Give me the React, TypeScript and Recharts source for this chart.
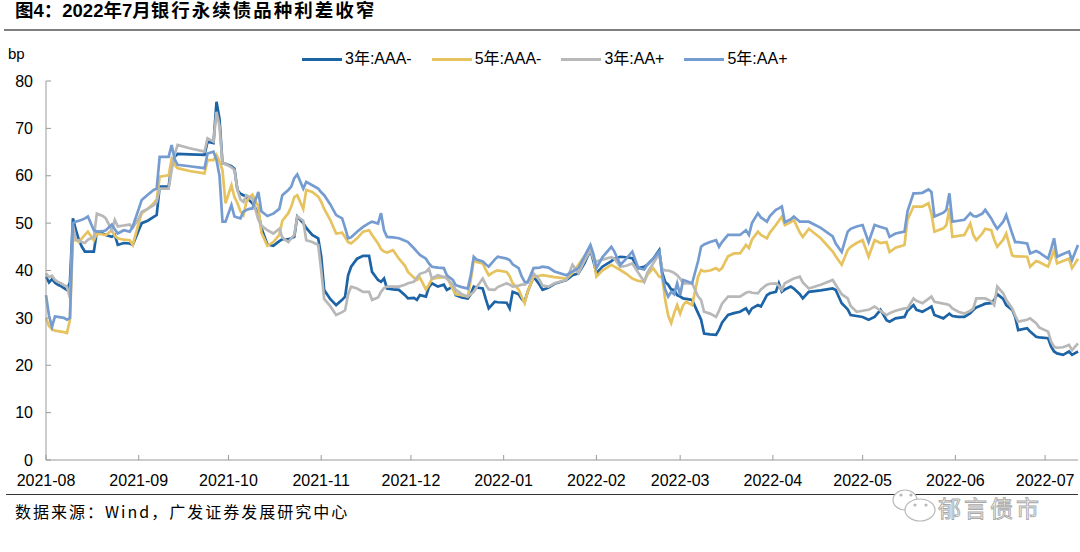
import React from 'react';
import { LineChart, Line, XAxis, YAxis, Legend } from 'recharts';

const dates = [
  '2021-08-02', '2021-08-03', '2021-08-04', '2021-08-05', '2021-08-06', '2021-08-07', '2021-08-08', '2021-08-09',
  '2021-08-10', '2021-08-11', '2021-08-12', '2021-08-13', '2021-08-14', '2021-08-15', '2021-08-16', '2021-08-18',
  '2021-08-19', '2021-08-21', '2021-08-22', '2021-08-24', '2021-08-25', '2021-08-26', '2021-08-28', '2021-08-30',
  '2021-08-31',
  '2021-09-02', '2021-09-03', '2021-09-05', '2021-09-07', '2021-09-08', '2021-09-09', '2021-09-12', '2021-09-13',
  '2021-09-14', '2021-09-15', '2021-09-19', '2021-09-24', '2021-09-25', '2021-09-27', '2021-09-28', '2021-09-29',
  '2021-09-30',
  '2021-10-01', '2021-10-03', '2021-10-04', '2021-10-05', '2021-10-06', '2021-10-07', '2021-10-08', '2021-10-09',
  '2021-10-10', '2021-10-12', '2021-10-13', '2021-10-15', '2021-10-17', '2021-10-19', '2021-10-20', '2021-10-22',
  '2021-10-23', '2021-10-24', '2021-10-25', '2021-10-27', '2021-10-28', '2021-10-30',
  '2021-11-01', '2021-11-02', '2021-11-03', '2021-11-05', '2021-11-07', '2021-11-09', '2021-11-10', '2021-11-11',
  '2021-11-12', '2021-11-14', '2021-11-16', '2021-11-18', '2021-11-19', '2021-11-21', '2021-11-22', '2021-11-23',
  '2021-11-24', '2021-11-26', '2021-11-28', '2021-11-30',
  '2021-12-01', '2021-12-03', '2021-12-04', '2021-12-05', '2021-12-07', '2021-12-08', '2021-12-09', '2021-12-11',
  '2021-12-13', '2021-12-14', '2021-12-16', '2021-12-17', '2021-12-19', '2021-12-21', '2021-12-22', '2021-12-23',
  '2021-12-24', '2021-12-26', '2021-12-27', '2021-12-28', '2021-12-30', '2021-12-31',
  '2022-01-03', '2022-01-04', '2022-01-05', '2022-01-07', '2022-01-08', '2022-01-09', '2022-01-10', '2022-01-12',
  '2022-01-14', '2022-01-15', '2022-01-17', '2022-01-19', '2022-01-23', '2022-01-25', '2022-01-27', '2022-01-29',
  '2022-01-31',
  '2022-02-01', '2022-02-02', '2022-02-04', '2022-02-07', '2022-02-08', '2022-02-10', '2022-02-12', '2022-02-14',
  '2022-02-16', '2022-02-18', '2022-02-19', '2022-02-21', '2022-02-23', '2022-02-24', '2022-02-25', '2022-02-26',
  '2022-02-27', '2022-02-28',
  '2022-03-01', '2022-03-02', '2022-03-03', '2022-03-04', '2022-03-06', '2022-03-08', '2022-03-09', '2022-03-10',
  '2022-03-12', '2022-03-14', '2022-03-15', '2022-03-16', '2022-03-18', '2022-03-20', '2022-03-22', '2022-03-24',
  '2022-03-25', '2022-03-26', '2022-03-28', '2022-03-29', '2022-03-31',
  '2022-04-01', '2022-04-03', '2022-04-04', '2022-04-05', '2022-04-06', '2022-04-08', '2022-04-09', '2022-04-11',
  '2022-04-12', '2022-04-14', '2022-04-18', '2022-04-22', '2022-04-23', '2022-04-25', '2022-04-27', '2022-04-28',
  '2022-04-30',
  '2022-05-02', '2022-05-04', '2022-05-06', '2022-05-08', '2022-05-10', '2022-05-11', '2022-05-13', '2022-05-16',
  '2022-05-17', '2022-05-19', '2022-05-20', '2022-05-22', '2022-05-24', '2022-05-25', '2022-05-26', '2022-05-29',
  '2022-05-30', '2022-05-31',
  '2022-06-01', '2022-06-03', '2022-06-05', '2022-06-07', '2022-06-08', '2022-06-09', '2022-06-11', '2022-06-12',
  '2022-06-14', '2022-06-15', '2022-06-16', '2022-06-18', '2022-06-19', '2022-06-21', '2022-06-22', '2022-06-23',
  '2022-06-26', '2022-06-27', '2022-06-29', '2022-06-30',
  '2022-07-03', '2022-07-04', '2022-07-05', '2022-07-06', '2022-07-08', '2022-07-10', '2022-07-11', '2022-07-13',
];

// 3年:AAA-
const aaa3 = [
  38.7, 37.5, 38.2, 37.4, 37.0, 36.7, 36.3, 35.9, 37.5, 51.0, 48.5, 46.4, 45.0, 44.0, 44.0, 44.0, 48.2, 47.8, 47.5, 47.1, 47.5, 45.4, 45.8, 45.7, 45.4,
  48.5, 50.0, 50.5, 51.3, 51.7, 57.7, 57.7, 62.5, 64.0, 64.6, 64.5, 64.4, 67.2, 66.9, 75.6, 72.0, 62.6,
  62.5, 62.0, 61.5, 57.0, 56.2, 55.9, 55.5, 54.8, 54.2, 52.1, 49.0, 45.5, 45.2, 46.2, 46.6, 46.6, 46.8, 47.1, 51.4, 50.0, 49.0, 47.5,
  46.8, 43.0, 35.9, 34.0, 32.7, 33.8, 34.5, 39.0, 40.8, 42.5, 43.1, 43.1, 39.7, 38.0, 37.6, 38.3, 36.2, 36.0, 35.9, 34.8,
  34.1, 34.2, 33.8, 34.8, 34.5, 36.5, 37.3, 36.6, 37.0, 35.9, 36.6, 34.8, 34.3, 34.1, 35.0, 36.6, 36.4, 36.2, 34.0, 32.0, 33.4, 33.3,
  33.2, 32.0, 35.5, 35.0, 34.0, 33.4, 35.5, 38.7, 37.0, 35.9, 36.4, 37.2, 38.0, 39.0, 39.4, 41.5, 44.3,
  42.0, 39.4, 40.8, 42.0, 42.5, 42.9, 42.8, 42.6, 40.5, 40.8, 41.2, 42.5, 44.3, 39.6, 37.6, 37.0, 36.0, 35.9,
  34.8, 34.5, 34.1, 34.0, 33.8, 31.0, 29.6, 26.7, 26.5, 26.4, 27.5, 29.0, 30.6, 31.0, 31.3, 32.0, 31.0, 32.0, 32.7, 32.4, 34.8,
  35.2, 35.5, 37.3, 35.5, 36.0, 36.6, 36.2, 35.0, 34.1, 35.5, 35.8, 36.2, 35.9, 33.1, 31.8, 30.6, 30.4,
  30.2, 29.6, 30.2, 31.7, 29.5, 29.2, 29.9, 30.2, 31.5, 32.7, 31.7, 31.3, 32.0, 32.4, 30.6, 29.9, 30.4, 30.9,
  30.4, 30.2, 30.2, 31.0, 31.7, 32.2, 32.7, 33.0, 33.1, 33.8, 35.0, 34.0, 32.7, 31.7, 30.2, 27.4, 27.8, 27.1, 26.0, 25.9,
  25.7, 24.0, 22.9, 22.5, 22.2, 22.9, 22.2, 22.9,
];

// 5年:AAA-
const aaa5 = [
  29.9, 28.3, 27.6, 27.3, 27.2, 27.1, 27.0, 26.8, 29.6, 46.4, 46.4, 46.0, 46.8, 47.5, 48.2, 46.4, 47.8, 47.6, 47.5, 48.5, 47.3, 46.8, 46.5, 46.4, 45.4,
  50.0, 52.1, 53.0, 54.2, 55.0, 59.8, 60.1, 63.5, 62.3, 61.6, 61.0, 60.5, 63.3, 63.3, 64.4, 63.0, 61.2,
  54.2, 58.0, 55.5, 54.2, 52.5, 51.7, 54.5, 55.5, 56.0, 53.5, 48.0, 45.2, 46.0, 47.5, 50.5, 52.1, 53.5, 55.5, 55.9, 53.0, 57.0, 56.6,
  55.6, 54.5, 53.0, 50.7, 47.8, 48.0, 47.0, 46.0, 45.7, 46.8, 48.2, 48.5, 47.5, 45.7, 44.5, 44.0, 43.8, 44.3, 42.5, 41.0,
  39.7, 38.5, 38.0, 38.5, 36.0, 37.0, 38.2, 38.5, 38.6, 38.7, 36.0, 35.0, 34.8, 34.5, 38.0, 42.2, 41.8, 41.5, 40.2, 39.0, 39.8, 40.0,
  39.7, 38.8, 37.3, 36.0, 34.5, 33.1, 35.5, 38.7, 38.9, 39.0, 38.8, 38.6, 38.3, 39.5, 41.2, 43.0, 44.7,
  43.0, 38.7, 40.0, 41.2, 40.8, 40.1, 39.3, 38.3, 37.8, 37.6, 39.0, 40.5, 38.7, 38.5, 33.8, 30.5, 28.9, 31.0,
  32.7, 30.9, 32.7, 33.4, 32.7, 38.7, 40.1, 39.8, 40.0, 40.5, 40.0, 40.5, 43.0, 43.6, 43.6, 45.4, 44.7, 46.5, 48.2, 47.5, 46.8,
  48.0, 49.6, 50.5, 51.4, 49.6, 50.2, 50.7, 48.0, 47.1, 48.8, 46.8, 44.0, 43.0, 41.2, 44.3, 45.0, 45.8,
  46.4, 42.9, 46.4, 45.8, 46.0, 43.9, 44.8, 45.4, 50.7, 53.5, 53.5, 53.5, 54.2, 52.0, 48.2, 48.9, 49.6, 53.1,
  47.1, 47.3, 47.5, 49.9, 47.5, 46.4, 47.8, 48.8, 48.5, 46.5, 45.0, 46.5, 47.8, 43.2, 43.0, 43.0, 42.9, 40.8, 42.0, 41.8,
  40.8, 42.5, 44.3, 41.5, 42.0, 42.5, 40.5, 42.5,
];

// 3年:AA+
const aa3 = [
  39.4, 38.6, 38.9, 38.0, 37.6, 37.3, 36.9, 36.6, 34.2, 49.5, 46.5, 46.4, 46.0, 45.8, 46.5, 47.1, 52.0, 51.5, 51.0, 48.5, 50.7, 49.3, 49.5, 49.7, 49.0,
  51.0, 52.4, 53.0, 53.8, 54.5, 57.3, 57.3, 61.2, 64.5, 66.5, 65.8, 65.1, 67.9, 67.2, 73.5, 70.5, 62.6,
  62.5, 61.8, 61.2, 57.0, 55.0, 54.5, 55.9, 55.5, 55.2, 50.7, 49.5, 48.5, 47.8, 48.8, 47.0, 46.0, 46.8, 47.5, 51.4, 50.5, 46.4, 46.0,
  45.4, 40.0, 34.0, 32.5, 30.6, 31.2, 31.6, 35.0, 36.6, 36.2, 35.5, 35.5, 33.8, 34.3, 35.5, 36.3, 36.6, 36.6, 36.6, 37.0,
  37.3, 37.6, 38.5, 39.3, 39.7, 40.4, 38.3, 39.0, 38.6, 38.3, 37.0, 35.9, 35.0, 34.5, 35.0, 35.5, 36.5, 38.3, 37.0, 36.0, 35.9, 36.5,
  37.3, 37.0, 36.6, 36.8, 37.0, 37.0, 37.5, 39.4, 38.0, 36.8, 36.6, 37.3, 38.0, 41.2, 39.4, 42.0, 44.3,
  42.5, 41.9, 42.3, 42.8, 42.5, 40.8, 41.0, 41.5, 39.5, 37.6, 39.5, 41.5, 43.6, 40.3, 40.0, 40.0, 39.8, 39.5,
  39.0, 38.3, 37.3, 37.3, 37.3, 34.5, 33.8, 31.3, 30.9, 30.2, 31.5, 33.0, 34.5, 34.5, 34.5, 35.3, 35.5, 35.3, 35.2, 36.0, 37.0,
  37.2, 37.3, 36.8, 35.9, 37.3, 38.0, 38.3, 38.7, 37.5, 36.2, 37.0, 38.0, 37.0, 35.0, 34.1, 32.5, 31.3,
  31.5, 31.7, 32.4, 31.5, 30.6, 31.0, 31.5, 32.0, 32.0, 34.1, 33.6, 33.1, 34.0, 34.5, 33.4, 33.0, 32.9, 32.7,
  32.0, 31.3, 30.9, 31.5, 32.0, 34.1, 34.1, 34.1, 33.5, 32.7, 36.6, 35.2, 33.8, 32.0, 30.5, 29.2, 29.6, 29.9, 28.9, 28.0,
  27.1, 25.0, 23.9, 23.7, 23.8, 24.3, 23.2, 24.6,
];

// 5年:AA+
const aa5 = [
  34.8, 30.5, 28.1, 30.3, 30.2, 30.1, 30.0, 29.6, 30.0, 50.0, 50.3, 50.5, 50.7, 51.0, 51.4, 48.5, 48.2, 48.3, 48.5, 49.7, 48.7, 47.8, 48.5, 48.2, 49.3,
  53.0, 54.9, 56.0, 57.0, 57.3, 64.0, 64.0, 66.5, 63.5, 62.3, 62.0, 61.6, 64.7, 65.1, 63.3, 60.0, 50.3,
  50.3, 53.8, 51.4, 51.2, 51.0, 52.4, 52.8, 53.0, 53.1, 56.6, 52.5, 51.5, 52.0, 53.0, 55.9, 57.0, 57.7, 59.5, 60.3, 57.3, 58.7, 58.0,
  57.3, 56.5, 55.9, 54.0, 51.7, 51.0, 49.0, 46.8, 47.0, 48.2, 49.2, 50.0, 50.3, 49.9, 52.1, 48.5, 47.1, 47.0, 46.8, 46.3,
  46.0, 44.7, 44.0, 43.3, 42.5, 41.5, 40.8, 40.6, 40.5, 39.0, 38.0, 36.9, 36.5, 36.2, 39.0, 42.9, 42.3, 41.9, 41.3, 40.8, 42.3, 42.9,
  42.5, 42.2, 41.3, 40.5, 38.8, 37.6, 37.5, 40.5, 40.6, 40.8, 40.6, 39.8, 39.0, 39.8, 40.5, 43.0, 45.4,
  43.5, 40.5, 42.8, 45.0, 44.0, 41.2, 42.5, 44.0, 40.5, 40.2, 41.2, 42.5, 44.0, 39.0, 36.0, 34.5, 35.5, 35.0,
  37.3, 34.8, 38.0, 37.8, 37.3, 42.0, 45.0, 45.5, 46.0, 46.4, 45.0, 46.0, 47.5, 47.5, 47.5, 48.5, 47.5, 50.0, 52.1, 51.2, 50.3,
  51.5, 52.8, 53.1, 53.5, 50.2, 50.8, 51.4, 50.3, 50.3, 50.3, 49.0, 47.2, 45.7, 43.9, 48.2, 48.8, 49.3,
  49.6, 46.0, 49.6, 49.2, 48.8, 47.1, 47.8, 48.2, 52.5, 56.3, 56.3, 56.4, 57.1, 56.6, 51.4, 52.2, 52.8, 56.3,
  50.3, 50.5, 50.7, 52.1, 51.5, 51.4, 52.0, 52.8, 51.0, 49.8, 48.8, 50.3, 51.7, 47.8, 46.0, 46.0, 45.7, 43.6, 44.1, 43.8,
  42.5, 44.5, 46.8, 42.9, 43.5, 44.0, 42.2, 45.4,
];

const monthLabels = [
  '2021-08', '2021-09', '2021-10', '2021-11', '2021-12', '2022-01',
  '2022-02', '2022-03', '2022-04', '2022-05', '2022-06', '2022-07',
];
const yTicks = [0, 10, 20, 30, 40, 50, 60, 70, 80];

// the Excel axis starts at the first trading day, so month ticks land on the 2nd
const monthTicks = monthLabels.map((m) => Date.parse(`${m}-02`));

const series = [
  { key: 'aaa3', name: '3年:AAA-', color: '#1c64a6' },
  { key: 'aaa5', name: '5年:AAA-', color: '#e6c35e' },
  { key: 'aa3', name: '3年:AA+', color: '#b8b8b8' },
  { key: 'aa5', name: '5年:AA+', color: '#759cd0' },
];

const chartData = dates.map((d, i) => ({
  t: Date.parse(d),
  aaa3: aaa3[i],
  aaa5: aaa5[i],
  aa3: aa3[i],
  aa5: aa5[i],
}));

const FONT = '"Liberation Sans", Arial, "Noto Sans CJK SC", sans-serif';
const CJK_FONT = '"Noto Sans CJK SC", "Liberation Sans", sans-serif';

// legend keeps the series order (recharts sorts the payload by name)
const renderLegend = () => (
  <div style={{ display: 'flex', alignItems: 'center', fontSize: 16, color: '#000', fontFamily: FONT }}>
    {series.map((s) => (
      <div key={s.key} style={{ display: 'flex', alignItems: 'center', marginRight: 20 }}>
        <span style={{ display: 'inline-block', width: 40, height: 3, background: s.color, marginRight: 3 }} />
        <span>{s.name}</span>
      </div>
    ))}
  </div>
);

const WeChatMark = () => (
  <svg width={50} height={40} style={{ position: 'absolute', left: 889, top: 486 }}>
    <ellipse cx={16} cy={14} rx={12} ry={10} fill="#fff" stroke="#b8b8b8" strokeWidth={1.2} />
    <circle cx={12} cy={9} r={1.6} fill="#b8b8b8" />
    <circle cx={22} cy={9} r={1.6} fill="#b8b8b8" />
    <ellipse cx={31} cy={24} rx={15} ry={11} fill="#fff" stroke="#b8b8b8" strokeWidth={1.2} />
    <circle cx={26} cy={19} r={1.6} fill="#b8b8b8" />
    <circle cx={37} cy={19} r={1.6} fill="#b8b8b8" />
  </svg>
);

export default function App() {
  return (
    <div style={{ position: 'absolute', left: 0, top: 0, width: 1080, height: 552, background: '#fff', fontFamily: FONT, overflow: 'hidden' }}>
      <div style={{ position: 'absolute', left: 15, top: -2, fontFamily: FONT, fontWeight: 700, fontSize: 18.5, lineHeight: '26px', color: '#000', whiteSpace: 'nowrap' }}>
        图4：2022年7月<span style={{ letterSpacing: 2 }}>银行永续债品种利差收窄</span>
      </div>
      <div style={{ position: 'absolute', left: 4, top: 29, width: 1076, height: 1.5, background: '#7f7f7f' }} />

      <div style={{ position: 'absolute', left: 8, top: 46, fontSize: 15, lineHeight: '15px', color: '#000' }}>bp</div>

      <LineChart
        width={1080}
        height={552}
        data={chartData}
        margin={{ top: 81, right: 2, bottom: 62, left: 0 }}
        style={{ position: 'absolute', left: 0, top: 0 }}
      >
        <XAxis
          dataKey="t"
          type="number"
          domain={[chartData[0].t, chartData[chartData.length - 1].t]}
          ticks={monthTicks}
          interval={0}
          tickFormatter={(v: number) => monthLabels[monthTicks.indexOf(v)] ?? ''}
          stroke="#9a9a9a"
          tickSize={-5}
          tickMargin={20}
          height={30}
          tick={{ fontSize: 16, fill: '#000' }}
        />
        <YAxis
          domain={[0, 80]}
          ticks={yTicks}
          interval={0}
          width={46}
          stroke="#9a9a9a"
          tickSize={-5}
          tickMargin={18}
          tick={{ fontSize: 16, fill: '#000' }}
        />
        <Legend
          layout="horizontal"
          verticalAlign="middle"
          align="center"
          content={renderLegend}
          wrapperStyle={{ top: 50, left: 302, width: 'auto', lineHeight: '18px' }}
        />
        {series.map((s) => (
          <Line
            key={s.key}
            type="linear"
            dataKey={s.key}
            name={s.name}
            stroke={s.color}
            strokeWidth={2.7}
            dot={false}
            activeDot={false}
            isAnimationActive={false}
          />
        ))}
      </LineChart>

      <div style={{ position: 'absolute', left: 6, top: 493.5, width: 1072, height: 1.5, background: '#333' }} />
      <div style={{ position: 'absolute', left: 15, top: 500, fontFamily: CJK_FONT, fontSize: 16, lineHeight: '22px', letterSpacing: 2, color: '#000' }}>
        数据来源：Wind，广发证券发展研究中心
      </div>

      <WeChatMark />
      <div style={{ position: 'absolute', left: 938, top: 494, fontFamily: CJK_FONT, fontSize: 23, lineHeight: '27px', letterSpacing: 3, color: '#fff', WebkitTextStroke: '0.9px #a8a8a8' } as React.CSSProperties}>
        郁言债市
      </div>
    </div>
  );
}
